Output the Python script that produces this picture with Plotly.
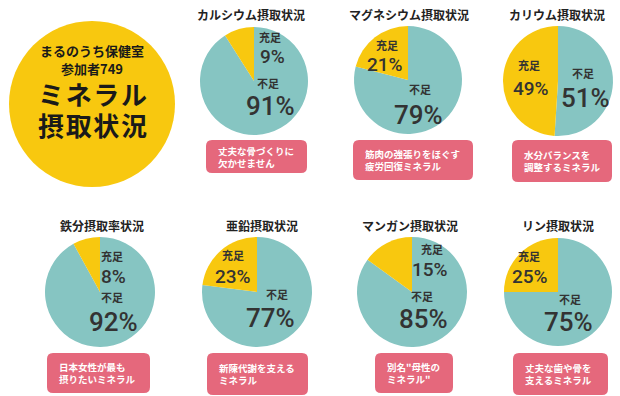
import plotly.graph_objects as go

W, H = 620, 396

titles = ["カルシウム摂取状況", "マグネシウム摂取状況", "カリウム摂取状況",
          "鉄分摂取率状況", "亜鉛摂取状況", "マンガン摂取状況", "リン摂取状況"]
sufficient = [9, 21, 49, 8, 23, 15, 25]
deficient = [91, 79, 51, 92, 77, 85, 75]
slice_labels = ["充足", "不足"]
notes = [["丈夫な骨づくりに", "欠かせません"],
         ["筋肉の強張りをほぐす", "疲労回復ミネラル"],
         ["水分バランスを", "調整するミネラル"],
         ["日本女性が最も", "摂りたいミネラル"],
         ["新陳代謝を支える", "ミネラル"],
         ["別名\"母性の", "ミネラル\""],
         ["丈夫な歯や骨を", "支えるミネラル"]]
badge_lines = ["まるのうち保健室", "参加者749", "ミネラル", "摂取状況"]

TEAL = "#86C5C2"
YELLOW = "#F8C80F"
PINK = "#E5687C"
DARK = "#333333"
JP = "Noto Sans CJK JP"
NUM = "Roboto"

# layout (pixels)
centers = [(254, 81), (408, 80), (558, 81), (100, 292), (257, 292), (412, 292), (558, 292)]
radii = [54, 54, 55, 55, 55, 55, 54]
title_pos = [(251, 15), (409, 15), (557, 15), (102, 225), (262, 225), (410, 225), (558, 225)]
boxes = [(206, 140, 307, 173), (353, 140, 473, 180), (512, 140, 612, 182),
         (47, 353, 150, 393), (207, 353, 308, 395), (375, 353, 453, 393), (513, 353, 608, 395)]
suf_pos = [((270, 37), (272, 57)), ((387, 45), (385, 64)), ((529, 65), (531, 88)),
           ((112, 256), (113, 276)), ((233, 255), (233, 276)), ((432, 249), (430, 269)),
           ((529, 256), (530, 276))]
def_pos = [((268, 83), (270, 106)), ((420, 89), (418, 115)), ((583, 73), (585, 98)),
           ((112, 297), (113, 322)), ((277, 294), (270, 318)), ((422, 296), (423, 319)),
           ((570, 299), (568, 322))]

def px(x):
    return x / W

def py(y):
    return 1 - y / H

fig = go.Figure()
annotations = []
shapes = []

def add_text(text, x, y, size, color, family, xanchor="center", weight="normal"):
    annotations.append(dict(text=text, x=px(x), y=py(y), xref="paper", yref="paper",
                            showarrow=False, xanchor=xanchor, yanchor="middle",
                            align="left" if xanchor == "left" else "center",
                            font=dict(family=family, size=size, color=color, weight=weight)))

# Badge circle
bcx, bcy, br = 92, 104, 83
shapes.append(dict(type="circle", xref="paper", yref="paper",
                   x0=px(bcx - br), x1=px(bcx + br), y0=py(bcy + br), y1=py(bcy - br),
                   fillcolor=YELLOW, line=dict(width=0), layer="below"))
badge_y = [50, 68, 93, 124]
badge_sz = [13, 13, 26, 26]
for t, yy, s in zip(badge_lines, badge_y, badge_sz):
    shown = "\u200a".join(t) if s > 20 else t
    add_text(f"<b>{shown}</b>", bcx, yy, s, "#1a1a1a", JP)

for i in range(7):
    cx, cy = centers[i]
    r = radii[i]
    # deficient first, clockwise from 12 o'clock -> sufficient slice ends at 12 on the upper-left
    fig.add_trace(go.Pie(
        labels=[slice_labels[1], slice_labels[0]], values=[deficient[i], sufficient[i]],
        marker=dict(colors=[TEAL, YELLOW], line=dict(width=0)),
        sort=False, direction="clockwise", rotation=0,
        textinfo="none", hole=0, showlegend=False,
        domain=dict(x=[px(cx - r), px(cx + r)], y=[py(cy + r), py(cy - r)])))
    tx, ty = title_pos[i]
    add_text(f"<b>{titles[i]}</b>", tx, ty, 12, "#222222", JP)
    (lx, ly), (vx, vy) = suf_pos[i]
    add_text(f"<b>{slice_labels[0]}</b>", lx, ly, 11, DARK, JP)
    add_text(f"{sufficient[i]}%", vx, vy, 19, DARK, NUM, weight=500)
    (lx, ly), (vx, vy) = def_pos[i]
    add_text(f"<b>{slice_labels[1]}</b>", lx, ly, 11, DARK, JP)
    add_text(f"{deficient[i]}%", vx, vy, 26, DARK, NUM, weight=500)
    # pink box
    x0, y0, x1, y1 = boxes[i]
    rr = 6
    path = (f"M {px(x0 + rr)} {py(y0)} L {px(x1 - rr)} {py(y0)} Q {px(x1)} {py(y0)} {px(x1)} {py(y0 + rr)} "
            f"L {px(x1)} {py(y1 - rr)} Q {px(x1)} {py(y1)} {px(x1 - rr)} {py(y1)} "
            f"L {px(x0 + rr)} {py(y1)} Q {px(x0)} {py(y1)} {px(x0)} {py(y1 - rr)} "
            f"L {px(x0)} {py(y0 + rr)} Q {px(x0)} {py(y0)} {px(x0 + rr)} {py(y0)} Z")
    shapes.append(dict(type="path", path=path, xref="paper", yref="paper",
                       fillcolor=PINK, line=dict(width=0), layer="below"))
    add_text("<b>" + "<br>".join(notes[i]) + "</b>", x0 + 10, (y0 + y1) / 2, 9.5, "white", JP, xanchor="left")

fig.update_layout(width=W, height=H, margin=dict(l=0, r=0, t=0, b=0),
                  paper_bgcolor="white", plot_bgcolor="white",
                  shapes=shapes, annotations=annotations)
fig.write_html("out.html", config={"displayModeBar": False},
               post_script="document.body.style.margin='0px';document.body.style.overflow='hidden';")
